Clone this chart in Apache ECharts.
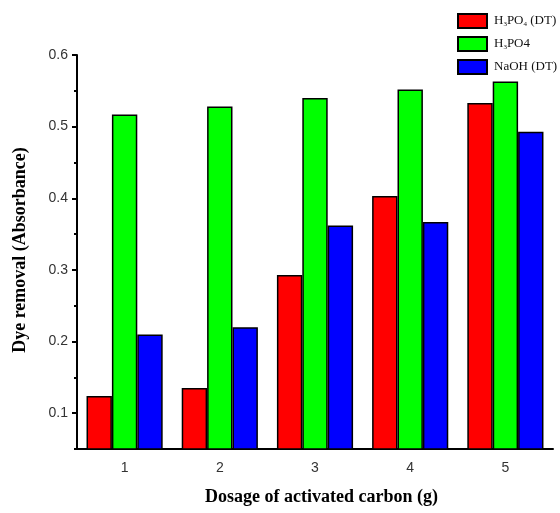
<!DOCTYPE html>
<html>
<head>
<meta charset="utf-8">
<script src="https://cdn.jsdelivr.net/npm/echarts@6/dist/echarts.min.js"></script>
<style>html,body{margin:0;padding:0;background:#fff}#c{width:560px;height:513px}</style>
</head>
<body>
<div id="c"></div>
<script>
var categories = ['1', '2', '3', '4', '5'];
var h3po4DT = [0.124, 0.135, 0.293, 0.403, 0.533];
var h3po4 = [0.517, 0.528, 0.540, 0.552, 0.563];
var naohDT = [0.210, 0.220, 0.362, 0.367, 0.493];
var yTicks = [0.1, 0.2, 0.3, 0.4, 0.5, 0.6];
var yMinorTicks = [0.05, 0.15, 0.25, 0.35, 0.45, 0.55];

var chart = echarts.init(document.getElementById('c'));
var border = {borderColor: '#000', borderWidth: 1.5};
var option = {
  animation: false,
  grid: {left: 77, right: 7, top: 55, bottom: 64},
  legend: {
    left: 457, top: 13, orient: 'vertical', icon: 'rect', padding: 0,
    itemWidth: 29, itemHeight: 14, itemGap: 7,
    textStyle: {fontFamily: 'Liberation Serif', fontSize: 13, color: '#111', padding: [0, 0, 0, 2],
      rich: {
        n: {fontFamily: 'Liberation Serif', fontSize: 13, color: '#111'},
        s: {fontFamily: 'Liberation Serif', fontSize: 7, color: '#111', padding: [7, 0, 0, 0]}
      }
    },
    formatter: function (name) {
      if (name === 'H3PO4 (DT)') return '{n|H}{s|3}{n|PO}{s|4}{n| (DT)}';
      if (name === 'H3PO4') return '{n|H}{s|3}{n|PO4}';
      return '{n|' + name + '}';
    },
    data: ['H3PO4 (DT)', 'H3PO4', 'NaOH (DT)']
  },
  xAxis: [{
    type: 'category', data: categories,
    axisLine: {lineStyle: {color: '#000', width: 2}},
    axisTick: {alignWithLabel: true, length: 5, lineStyle: {color: '#000', width: 2}},
    axisLabel: {color: '#333', fontFamily: 'Liberation Sans', fontSize: 14, margin: 12}
  }, {
    type: 'category', data: categories, position: 'bottom',
    axisLine: {show: false},
    axisTick: {length: 3, lineStyle: {color: '#000', width: 2}},
    axisLabel: {show: false}
  }],
  yAxis: [{
    type: 'value', min: 0.05, max: 0.6,
    splitLine: {show: false},
    axisLine: {show: true, lineStyle: {color: '#000', width: 2}},
    axisTick: {show: true, length: 5, customValues: yTicks, lineStyle: {color: '#000', width: 2}},
    axisLabel: {color: '#333', fontFamily: 'Liberation Sans', fontSize: 14, margin: 9,
      customValues: yTicks, formatter: function (v) { return v.toFixed(1); }}
  }, {
    type: 'value', min: 0.05, max: 0.6, position: 'left',
    splitLine: {show: false},
    axisLine: {show: false},
    axisTick: {show: true, length: 3, customValues: yMinorTicks, lineStyle: {color: '#000', width: 2}},
    axisLabel: {show: false}
  }],
  graphic: [{
    type: 'text', left: 205, top: 488,
    style: {text: 'Dosage of activated carbon (g)', font: 'bold 18px "Liberation Serif"', fill: '#000'}
  }, {
    type: 'text', x: 20, y: 250, rotation: Math.PI / 2,
    style: {text: 'Dye removal (Absorbance)', font: 'bold 18px "Liberation Serif"', fill: '#000',
      align: 'center', verticalAlign: 'middle'}
  }],
  series: [
    {name: 'H3PO4 (DT)', type: 'bar', data: h3po4DT, barGap: '0%', barCategoryGap: '20%',
      itemStyle: Object.assign({color: '#ff0000'}, border)},
    {name: 'H3PO4', type: 'bar', data: h3po4, barGap: '0%', barCategoryGap: '20%',
      itemStyle: Object.assign({color: '#00ff00'}, border)},
    {name: 'NaOH (DT)', type: 'bar', data: naohDT, barGap: '0%', barCategoryGap: '20%',
      itemStyle: Object.assign({color: '#0000ff'}, border)}
  ]
};
chart.setOption(option);
</script>
</body>
</html>
